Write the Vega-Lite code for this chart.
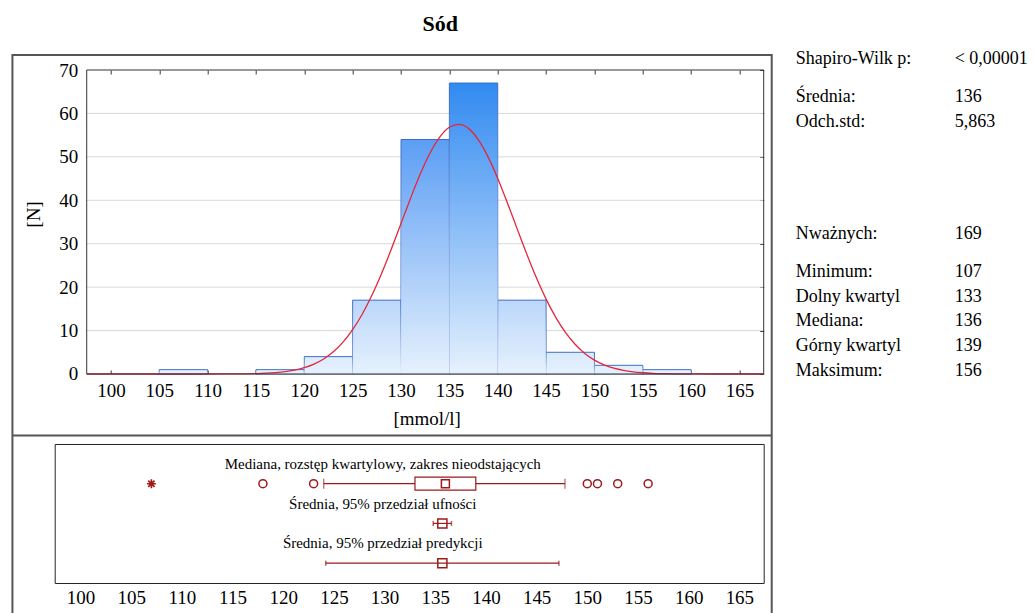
{
"$schema":"https://vega.github.io/schema/vega-lite/v6.json",
"autosize":{"type":"pad"},
"padding":{"left":10.7,"top":13,"right":0,"bottom":0},
"background":"white",
"title":{"text":"Sód","font":"Liberation Serif","fontSize":22,"fontWeight":"bold","color":"#000","anchor":"start","frame":"bounds","dx":411,"offset":14},
"config":{"view":{"stroke":null},"font":"Liberation Serif"},
"spacing":70,
"bounds":"flush",
"vconcat":[
{"width":709,"height":304,
"resolve":{"scale":{"x":"independent","y":"independent"},"axis":{"x":"independent","y":"independent"}},
"layer":[
{"resolve":{"axis":{"x":"independent","y":"independent"}},
"layer":[
{"data":{"values":[{"g":10},{"g":20},{"g":30},{"g":40},{"g":50},{"g":60}]},
"mark":{"type":"rule","color":"#d9d9d9","strokeWidth":1},
"encoding":{"y":{"field":"g","type":"quantitative","scale":{"domain":[0,70],"nice":false,"zero":false},"axis":null},
"x":{"datum":97.5,"type":"quantitative","scale":{"domain":[94.19,167.5],"nice":false,"zero":false},"axis":null},
"x2":{"datum":167.5}}},
{"data":{"values":[{"lo":105,"hi":110,"n":1},{"lo":115,"hi":120,"n":1},{"lo":120,"hi":125,"n":4},{"lo":125,"hi":130,"n":17},{"lo":130,"hi":135,"n":54},{"lo":135,"hi":140,"n":67},{"lo":140,"hi":145,"n":17},{"lo":145,"hi":150,"n":5},{"lo":150,"hi":155,"n":2},{"lo":155,"hi":160,"n":1}]},
"mark":{"type":"rect","stroke":"#3b6cc6","strokeWidth":1},
"encoding":{
"x":{"field":"lo","type":"quantitative","scale":{"domain":[94.19,167.5],"nice":false,"zero":false},
"axis":{"orient":"bottom","values":[100,105,110,115,120,125,130,135,140,145,150,155,160,165],"grid":false,"domain":false,"ticks":false,"labelFont":"Liberation Serif","labelFontSize":19,"labelColor":"#000","labelPadding":8,"title":"[mmol/l]","titleFont":"Liberation Serif","titleFontSize":19,"titleFontWeight":"normal","titleColor":"#000","titleX":372,"titleY":45,"titleBaseline":"middle","titleAlign":"center"}},
"x2":{"field":"hi"},
"y":{"field":"n","type":"quantitative","scale":{"domain":[0,70],"nice":false,"zero":false},
"axis":{"orient":"left","offset":-32,"values":[0,10,20,30,40,50,60,70],"grid":false,"domain":false,"ticks":false,"labelFont":"Liberation Serif","labelFontSize":19,"labelColor":"#000","labelPadding":9,"title":"[N]","titleFont":"Liberation Serif","titleFontSize":19,"titleFontWeight":"normal","titleColor":"#000","titleX":-53,"titleY":144,"titleBaseline":"middle","titleAlign":"center","titleAngle":-90}},
"y2":{"datum":0},
"color":{"field":"n","type":"quantitative","scale":{"domain":[0,70],"range":["#e6f1fd","#2285f0"]},"legend":null}}},
{"data":{"values":[{"lo":105,"hi":110,"n":1},{"lo":115,"hi":120,"n":1},{"lo":120,"hi":125,"n":4},{"lo":125,"hi":130,"n":17},{"lo":130,"hi":135,"n":54},{"lo":135,"hi":140,"n":67},{"lo":140,"hi":145,"n":17},{"lo":145,"hi":150,"n":5},{"lo":150,"hi":155,"n":2},{"lo":155,"hi":160,"n":1}]},
"mark":{"type":"rect","strokeWidth":0,"fill":{"gradient":"linear","x1":0,"y1":0,"x2":0,"y2":1,"stops":[{"offset":0,"color":"rgba(230,241,253,0)"},{"offset":1,"color":"rgba(230,241,253,1)"}]}},
"encoding":{
"x":{"field":"lo","type":"quantitative","scale":{"domain":[94.19,167.5],"nice":false,"zero":false},
"axis":{"orient":"bottom","values":[100,105,110,115,120,125,130,135,140,145,150,155,160,165],"labels":false,"grid":false,"domain":false,"ticks":true,"tickSize":-4,"tickColor":"#333","title":null}},
"x2":{"field":"hi"},
"y":{"field":"n","type":"quantitative","scale":{"domain":[0,70],"nice":false,"zero":false},"axis":null},
"y2":{"datum":0}}},
{"data":{"values":[{"x":97.5,"y":0},{"x":108,"y":0},{"x":112,"y":0.01},{"x":113,"y":0.02},{"x":114,"y":0.05},{"x":115,"y":0.1},{"x":116,"y":0.18},{"x":117,"y":0.32},{"x":118,"y":0.54},{"x":119,"y":0.9},{"x":120,"y":1.45},{"x":121,"y":2.28},{"x":122,"y":3.46},{"x":123,"y":5.11},{"x":124,"y":7.33},{"x":125,"y":10.21},{"x":126,"y":13.82},{"x":127,"y":18.17},{"x":128,"y":23.2},{"x":129,"y":28.77},{"x":130,"y":34.66},{"x":131,"y":40.55},{"x":132,"y":46.09},{"x":133,"y":50.88},{"x":134,"y":54.56},{"x":135,"y":56.83},{"x":136,"y":57.49},{"x":137,"y":56.5},{"x":138,"y":53.93},{"x":139,"y":50.0},{"x":140,"y":45.03},{"x":141,"y":39.39},{"x":142,"y":33.47},{"x":143,"y":27.62},{"x":144,"y":22.14},{"x":145,"y":17.24},{"x":146,"y":13.04},{"x":147,"y":9.58},{"x":148,"y":6.84},{"x":149,"y":4.74},{"x":150,"y":3.19},{"x":151,"y":2.09},{"x":152,"y":1.33},{"x":153,"y":0.82},{"x":154,"y":0.49},{"x":155,"y":0.29},{"x":156,"y":0.16},{"x":157,"y":0.09},{"x":158,"y":0.05},{"x":159,"y":0.02},{"x":160,"y":0.01},{"x":164,"y":0},{"x":167.5,"y":0}]},
"mark":{"type":"line","color":"#e5263c","strokeWidth":1.3,"interpolate":"monotone"},
"encoding":{"x":{"field":"x","type":"quantitative","scale":{"domain":[94.19,167.5],"nice":false,"zero":false},"axis":null},
"y":{"field":"y","type":"quantitative","scale":{"domain":[0,70],"nice":false,"zero":false},"axis":null}}},
{"data":{"values":[{}]},
"mark":{"type":"rect","fill":"transparent","stroke":"#333","strokeWidth":1},
"encoding":{"x":{"datum":97.5,"type":"quantitative","scale":{"domain":[94.19,167.5],"nice":false,"zero":false},
"axis":{"orient":"top","values":[100,105,110,115,120,125,130,135,140,145,150,155,160,165],"labels":false,"grid":false,"domain":false,"ticks":true,"tickSize":-4,"tickColor":"#333","title":null}},
"x2":{"datum":167.5},
"y":{"datum":0,"type":"quantitative","scale":{"domain":[0,70],"nice":false,"zero":false},
"axis":{"orient":"right","values":[0,10,20,30,40,50,60,70],"labels":false,"grid":false,"domain":false,"ticks":true,"tickSize":-4,"tickColor":"#333","title":null}},
"y2":{"datum":70}}},
{"data":{"values":[{}]},
"mark":{"type":"rect","fill":"transparent","stroke":"#555","strokeWidth":2},
"encoding":{"x":{"datum":89.82,"type":"quantitative","scale":{"domain":[94.19,167.5],"nice":false,"zero":false},"axis":null},
"x2":{"datum":168.33},
"y":{"datum":73.45,"type":"quantitative","scale":{"domain":[0,70],"nice":false,"zero":false},"axis":null},
"y2":{"datum":-60}}},
{"data":{"values":[{}]},
"mark":{"type":"rule","stroke":"#555","strokeWidth":2},
"encoding":{"x":{"datum":89.82,"type":"quantitative","scale":{"domain":[94.19,167.5],"nice":false,"zero":false},"axis":null},
"x2":{"datum":168.33},
"y":{"datum":-14.16,"type":"quantitative","scale":{"domain":[0,70],"nice":false,"zero":false},"axis":null}}}
]},
{"data":{"values":[{"label":"Shapiro-Wilk p:","value":"< 0,00001"},{"label":"Średnia:","value":"136"},{"label":"Odch.std:","value":"5,863"},{"label":"Nważnych:","value":"169"},{"label":"Minimum:","value":"107"},{"label":"Dolny kwartyl","value":"133"},{"label":"Mediana:","value":"136"},{"label":"Górny kwartyl","value":"139"},{"label":"Maksimum:","value":"156"}]},
"transform":[{"fold":["label","value"],"as":["col","txt"]}],
"mark":{"type":"text","align":"left","baseline":"middle","fontSize":18,"font":"Liberation Serif","color":"#000"},
"encoding":{
"x":{"field":"col","type":"nominal","scale":{"type":"point","domain":["label","value"],"range":[741,900],"padding":0},"axis":null},
"y":{"field":"label","type":"nominal","scale":{"type":"point","domain":["Shapiro-Wilk p:","s1","s2","Średnia:","s3","Odch.std:","s4","s5","s6","s7","s8","s9","s10","s11","Nważnych:","s12","s13","Minimum:","s14","Dolny kwartyl","s15","Mediana:","s16","Górny kwartyl","s17","Maksimum:"],"range":[-11,301.5],"padding":0},"axis":null},
"text":{"field":"txt"}}}
]},
{"width":709,"height":139,
"view":{"stroke":"#222","strokeWidth":1},
"resolve":{"axis":{"x":"independent","y":"independent"}},
"layer":[
{"data":{"values":[{"row":"t1","lab":"Mediana, rozstęp kwartylowy, zakres nieodstających"},{"row":"t2","lab":"Średnia, 95% przedział ufności"},{"row":"t3","lab":"Średnia, 95% przedział predykcji"}]},
"mark":{"type":"text","fontSize":15,"align":"center","baseline":"middle","color":"#000","font":"Liberation Serif"},
"encoding":{"x":{"datum":129.82,"type":"quantitative","scale":{"domain":[97.46,167.4],"nice":false,"zero":false},"axis":null},
"y":{"field":"row","type":"nominal","scale":{"type":"point","domain":["t1","r1","t2","r2","t3","r3"],"padding":1},"axis":null},
"text":{"field":"lab"}}},
{"data":{"values":[{"row":"r1","lo":124,"blo":133,"mid":136,"bhi":139,"hi":147.8},{"row":"r2","lo":134.8,"blo":135.25,"mid":135.7,"bhi":136.15,"hi":136.6},{"row":"r3","lo":124.2,"blo":135.25,"mid":135.7,"bhi":136.15,"hi":147.2}]},
"mark":{"type":"rule","color":"#9b1b1b","strokeWidth":1.2},
"encoding":{"x":{"field":"lo","type":"quantitative","scale":{"domain":[97.46,167.4],"nice":false,"zero":false},
"axis":{"orient":"bottom","values":[100,105,110,115,120,125,130,135,140,145,150,155,160,165],"grid":false,"domain":false,"ticks":false,"labelFont":"Liberation Serif","labelFontSize":19,"labelColor":"#000","labelPadding":6,"title":null}},
"x2":{"field":"hi"},
"y":{"field":"row","type":"nominal","scale":{"type":"point","domain":["t1","r1","t2","r2","t3","r3"],"padding":1},"axis":null}}},
{"data":{"values":[{"row":"r1","lo":124,"blo":133,"mid":136,"bhi":139,"hi":147.8}]},
"transform":[{"fold":["lo","hi"],"as":["end","v"]}],
"mark":{"type":"tick","orient":"vertical","color":"#9b1b1b","size":10,"thickness":1.2},
"encoding":{"x":{"field":"v","type":"quantitative","scale":{"domain":[97.46,167.4],"nice":false,"zero":false},"axis":null},
"y":{"field":"row","type":"nominal","scale":{"type":"point","domain":["t1","r1","t2","r2","t3","r3"],"padding":1},"axis":null}}},
{"data":{"values":[{"row":"r2","lo":134.8,"blo":135.25,"mid":135.7,"bhi":136.15,"hi":136.6},{"row":"r3","lo":124.2,"blo":135.25,"mid":135.7,"bhi":136.15,"hi":147.2}]},
"transform":[{"fold":["lo","hi"],"as":["end","v"]}],
"mark":{"type":"tick","orient":"vertical","color":"#9b1b1b","size":5,"thickness":1.5},
"encoding":{"x":{"field":"v","type":"quantitative","scale":{"domain":[97.46,167.4],"nice":false,"zero":false},"axis":null},
"y":{"field":"row","type":"nominal","scale":{"type":"point","domain":["t1","r1","t2","r2","t3","r3"],"padding":1},"axis":null}}},
{"data":{"values":[{"row":"r1","lo":124,"blo":133,"mid":136,"bhi":139,"hi":147.8}]},
"mark":{"type":"bar","height":13,"fill":"white","stroke":"#9b1b1b","strokeWidth":1.2},
"encoding":{"x":{"field":"blo","type":"quantitative","scale":{"domain":[97.46,167.4],"nice":false,"zero":false},"axis":null},
"x2":{"field":"bhi"},
"y":{"field":"row","type":"nominal","scale":{"type":"point","domain":["t1","r1","t2","r2","t3","r3"],"padding":1},"axis":null}}},
{"data":{"values":[{"row":"r2","lo":134.8,"blo":135.25,"mid":135.7,"bhi":136.15,"hi":136.6},{"row":"r3","lo":124.2,"blo":135.25,"mid":135.7,"bhi":136.15,"hi":147.2}]},
"mark":{"type":"bar","height":9,"fill":"transparent","stroke":"#9b1b1b","strokeWidth":1.5},
"encoding":{"x":{"field":"blo","type":"quantitative","scale":{"domain":[97.46,167.4],"nice":false,"zero":false},"axis":null},
"x2":{"field":"bhi"},
"y":{"field":"row","type":"nominal","scale":{"type":"point","domain":["t1","r1","t2","r2","t3","r3"],"padding":1},"axis":null}}},
{"data":{"values":[{"row":"r1","mid":136}]},
"mark":{"type":"point","shape":"square","size":64,"filled":false,"color":"#9b1b1b","strokeWidth":1.5,"opacity":1},
"encoding":{"x":{"field":"mid","type":"quantitative","scale":{"domain":[97.46,167.4],"nice":false,"zero":false},"axis":null},
"y":{"field":"row","type":"nominal","scale":{"type":"point","domain":["t1","r1","t2","r2","t3","r3"],"padding":1},"axis":null}}},
{"data":{"values":[{"v":118},{"v":123},{"v":150},{"v":151},{"v":153},{"v":156}]},
"mark":{"type":"point","shape":"circle","size":64,"filled":false,"color":"#9b1b1b","strokeWidth":1.5,"opacity":1},
"encoding":{"x":{"field":"v","type":"quantitative","scale":{"domain":[97.46,167.4],"nice":false,"zero":false},"axis":null},
"y":{"datum":"r1","type":"nominal","scale":{"type":"point","domain":["t1","r1","t2","r2","t3","r3"],"padding":1},"axis":null}}},
{"data":{"values":[{"v":107}]},
"mark":{"type":"point","shape":"M-1,0L1,0M0,-1L0,1M-0.7,-0.7L0.7,0.7M-0.7,0.7L0.7,-0.7","size":80,"filled":false,"color":"#a01818","strokeWidth":1.6,"opacity":1},
"encoding":{"x":{"field":"v","type":"quantitative","scale":{"domain":[97.46,167.4],"nice":false,"zero":false},"axis":null},
"y":{"datum":"r1","type":"nominal","scale":{"type":"point","domain":["t1","r1","t2","r2","t3","r3"],"padding":1},"axis":null}}}
]}
]
}
